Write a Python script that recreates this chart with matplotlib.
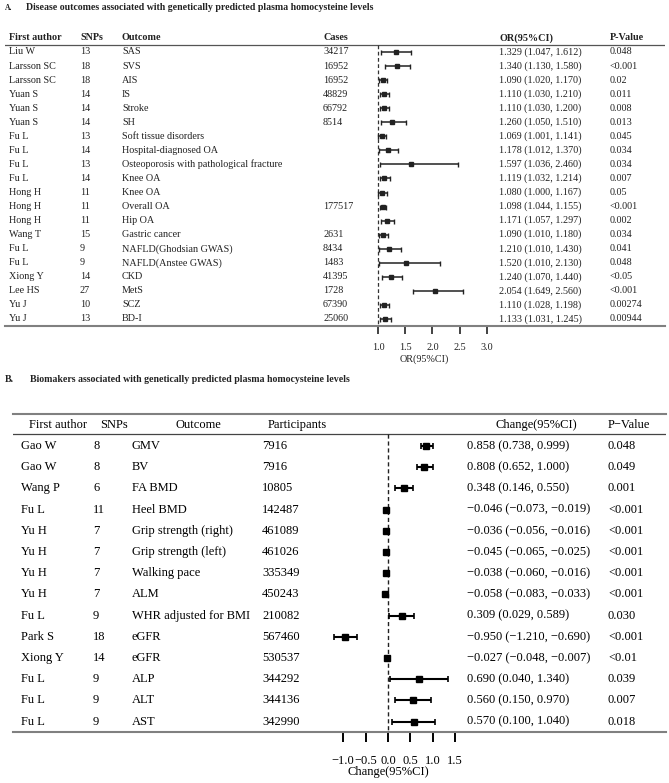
import matplotlib
matplotlib.use("Agg")
import matplotlib.pyplot as plt
import matplotlib.transforms as mtransforms

plt.rcParams['font.family'] = ['Liberation Serif', 'DejaVu Serif']

# ---- panel A data: disease outcomes ----
authors_a = ["Liu W", "Larsson SC", "Larsson SC", "Yuan S", "Yuan S", "Yuan S",
             "Fu L", "Fu L", "Fu L", "Fu L", "Hong H", "Hong H", "Hong H",
             "Wang T", "Fu L", "Fu L", "Xiong Y", "Lee HS", "Yu J", "Yu J"]
snps_a = [13, 18, 18, 14, 14, 14, 13, 14, 13, 14, 11, 11, 11, 15, 9, 9, 14, 27, 10, 13]
outcomes_a = ["SAS", "SVS", "AIS", "IS", "Stroke", "SH", "Soft tissue disorders",
              "Hospital-diagnosed OA", "Osteoporosis with pathological fracture",
              "Knee OA", "Knee OA", "Overall OA", "Hip OA", "Gastric cancer",
              "NAFLD(Ghodsian GWAS)", "NAFLD(Anstee GWAS)", "CKD", "MetS", "SCZ", "BD-I"]
cases_a = ["34217", "16952", "16952", "48829", "66792", "8514", "", "", "", "",
           "", "177517", "", "2631", "8434", "1483", "41395", "1728", "67390", "25060"]
or_a = [1.329, 1.340, 1.090, 1.110, 1.110, 1.260, 1.069, 1.178, 1.597, 1.119,
        1.080, 1.098, 1.171, 1.090, 1.210, 1.520, 1.240, 2.054, 1.110, 1.133]
lo_a = [1.047, 1.130, 1.020, 1.030, 1.030, 1.050, 1.001, 1.012, 1.036, 1.032,
        1.000, 1.044, 1.057, 1.010, 1.010, 1.010, 1.070, 1.649, 1.028, 1.031]
hi_a = [1.612, 1.580, 1.170, 1.210, 1.200, 1.510, 1.141, 1.370, 2.460, 1.214,
        1.167, 1.155, 1.297, 1.180, 1.430, 2.130, 1.440, 2.560, 1.198, 1.245]
p_a = ["0.048", "<0.001", "0.02", "0.011", "0.008", "0.013", "0.045", "0.034",
       "0.034", "0.007", "0.05", "<0.001", "0.002", "0.034", "0.041", "0.048",
       "<0.05", "<0.001", "0.00274", "0.00944"]
ticks_a = [1.0, 1.5, 2.0, 2.5, 3.0]

# ---- panel B data: biomarkers ----
authors_b = ["Gao W", "Gao W", "Wang P", "Fu L", "Yu H", "Yu H", "Yu H", "Yu H",
             "Fu L", "Park S", "Xiong Y", "Fu L", "Fu L", "Fu L"]
snps_b = [8, 8, 6, 11, 7, 7, 7, 7, 9, 18, 14, 9, 9, 9]
outcomes_b = ["GMV", "BV", "FA BMD", "Heel BMD", "Grip strength (right)",
              "Grip strength (left)", "Walking pace", "ALM", "WHR adjusted for BMI",
              "eGFR", "eGFR", "ALP", "ALT", "AST"]
part_b = ["7916", "7916", "10805", "142487", "461089", "461026", "335349", "450243",
          "210082", "567460", "530537", "344292", "344136", "342990"]
chg_b = [0.858, 0.808, 0.348, -0.046, -0.036, -0.045, -0.038, -0.058, 0.309,
         -0.950, -0.027, 0.690, 0.560, 0.570]
lo_b = [0.738, 0.652, 0.146, -0.073, -0.056, -0.065, -0.060, -0.083, 0.029,
        -1.210, -0.048, 0.040, 0.150, 0.100]
hi_b = [0.999, 1.000, 0.550, -0.019, -0.016, -0.025, -0.016, -0.033, 0.589,
        -0.690, -0.007, 1.340, 0.970, 1.040]
p_b = ["0.048", "0.049", "0.001", "<0.001", "<0.001", "<0.001", "<0.001", "<0.001",
       "0.030", "<0.001", "<0.01", "0.039", "0.007", "0.018"]
ticks_b = [-1.0, -0.5, 0.0, 0.5, 1.0, 1.5]

W, H = 669, 783
fig = plt.figure(figsize=(W / 100, H / 100), dpi=100)


def fmt(v):
    return f"{v:.3f}".replace("-", "\u2212")


def add_panel(left_px, right_px, row0_px, step_px, top_row, bot_row, x0_px, ppu, x0_val):
    top_px = row0_px + top_row * step_px
    bot_px = row0_px + bot_row * step_px
    ax = fig.add_axes([left_px / W, 1 - bot_px / H, (right_px - left_px) / W,
                       (bot_px - top_px) / H])
    ax.set_xlim(x0_val - (x0_px - left_px) / ppu, x0_val + (right_px - x0_px) / ppu)
    ax.set_ylim(bot_row, top_row)
    ax.set_yticks([])
    ax.patch.set_alpha(0)
    return ax


# ================= Panel A =================
n_a = len(authors_a)
axA = add_panel(5, 665, 52, 14.05, -1.5, n_a - 0.5, 378, 54.5, 1.0)
for s in ["top", "left", "right"]:
    axA.spines[s].set_visible(False)
axA.spines["bottom"].set_color("#808080")
axA.spines["bottom"].set_linewidth(1.5)
axA.set_xticks(ticks_a)
axA.tick_params(axis="x", direction="out", length=6, width=1.2, color="#222222",
                labelsize=7.3, labelcolor="#222222", pad=6)
axA.axhline(-0.5, color="#555555", lw=0.9)
rows_a = list(range(n_a))
axA.vlines(1.0, -0.5, n_a - 0.5, colors="#333333", linestyles=(0, (3, 2)), lw=0.9)
axA.errorbar(or_a, rows_a,
             xerr=[[o - l for o, l in zip(or_a, lo_a)], [h - o for o, h in zip(or_a, hi_a)]],
             fmt="s", ms=3.2, color="#222222", elinewidth=1.1, capsize=1.8, capthick=1.0)
axA.text(1.85, n_a + 1.85, "OR(95%CI)", ha="center", va="center", fontsize=7.3,
         color="#222222")

trA = mtransforms.blended_transform_factory(fig.transFigure, axA.transData)
colx_a = [9, 80, 122, 323, 499, 610]
heads_a = ["First author", "SNPs", "Outcome", "Cases", "OR(95%CI)", "P-Value"]
for x, h in zip(colx_a, heads_a):
    axA.text(x / W, -1, h, transform=trA, ha="left", va="center", fontsize=7.3,
             fontweight="bold", color="#222222")
for i in range(n_a):
    vals = [authors_a[i], str(snps_a[i]), outcomes_a[i], cases_a[i],
            f"{fmt(or_a[i])} ({fmt(lo_a[i])}, {fmt(hi_a[i])})", p_a[i]]
    for x, v in zip(colx_a, vals):
        axA.text(x / W, i, v, transform=trA, ha="left", va="center", fontsize=7.3,
                 color="#222222")

fig.text(5 / W, 1 - 8 / H, "A.", fontsize=5.5, fontweight="bold", va="center",
         color="#222222")
fig.text(26 / W, 1 - 8 / H,
         "Disease outcomes associated with genetically predicted plasma homocysteine levels",
         fontsize=7.1, fontweight="bold", va="center", color="#222222")

# ================= Panel B =================
n_b = len(authors_b)
axB = add_panel(13, 666, 446, 21.2, -1.5, n_b - 0.5, 388, 44.8, 0.0)
for s in ["left", "right"]:
    axB.spines[s].set_visible(False)
for s in ["top", "bottom"]:
    axB.spines[s].set_color("#808080")
    axB.spines[s].set_linewidth(1.5)
axB.set_xticks(ticks_b)
axB.tick_params(axis="x", direction="out", length=7.5, width=1.4, color="black",
                labelsize=9, pad=9)
axB.axhline(-0.55, color="#444444", lw=0.9)
rows_b = list(range(n_b))
axB.vlines(0.0, -0.55, n_b - 0.5, colors="#222222", linestyles=(0, (3, 2)), lw=1.0)
axB.errorbar(chg_b, rows_b,
             xerr=[[c - l for c, l in zip(chg_b, lo_b)], [h - c for c, h in zip(chg_b, hi_b)]],
             fmt="s", ms=3.8, color="black", elinewidth=1.5, capsize=2.2, capthick=1.2)
axB.text(0.0, n_b + 1.38, "Change(95%CI)", ha="center", va="center", fontsize=9)

trB = mtransforms.blended_transform_factory(fig.transFigure, axB.transData)
headx_b = [29, 100, 175, 268, 495, 608]
heads_b = ["First author", "SNPs", "Outcome", "Participants", "Change(95%CI)", "P\u2212Value"]
for x, h in zip(headx_b, heads_b):
    axB.text(x / W, -1, h, transform=trB, ha="left", va="center", fontsize=9)
colx_b = [21, 93, 132, 262, 467, 608]
for i in range(n_b):
    vals = [authors_b[i], str(snps_b[i]), outcomes_b[i], part_b[i],
            f"{fmt(chg_b[i])} ({fmt(lo_b[i])}, {fmt(hi_b[i])})", p_b[i]]
    for x, v in zip(colx_b, vals):
        axB.text(x / W, i, v, transform=trB, ha="left", va="center", fontsize=9)

fig.text(5 / W, 1 - 379 / H, "B.", fontsize=7.1, fontweight="bold", va="center",
         color="#222222")
fig.text(30 / W, 1 - 379 / H,
         "Biomakers associated with genetically predicted plasma homocysteine levels",
         fontsize=7.1, fontweight="bold", va="center", color="#222222")

fig.savefig("out.png", dpi=100)
